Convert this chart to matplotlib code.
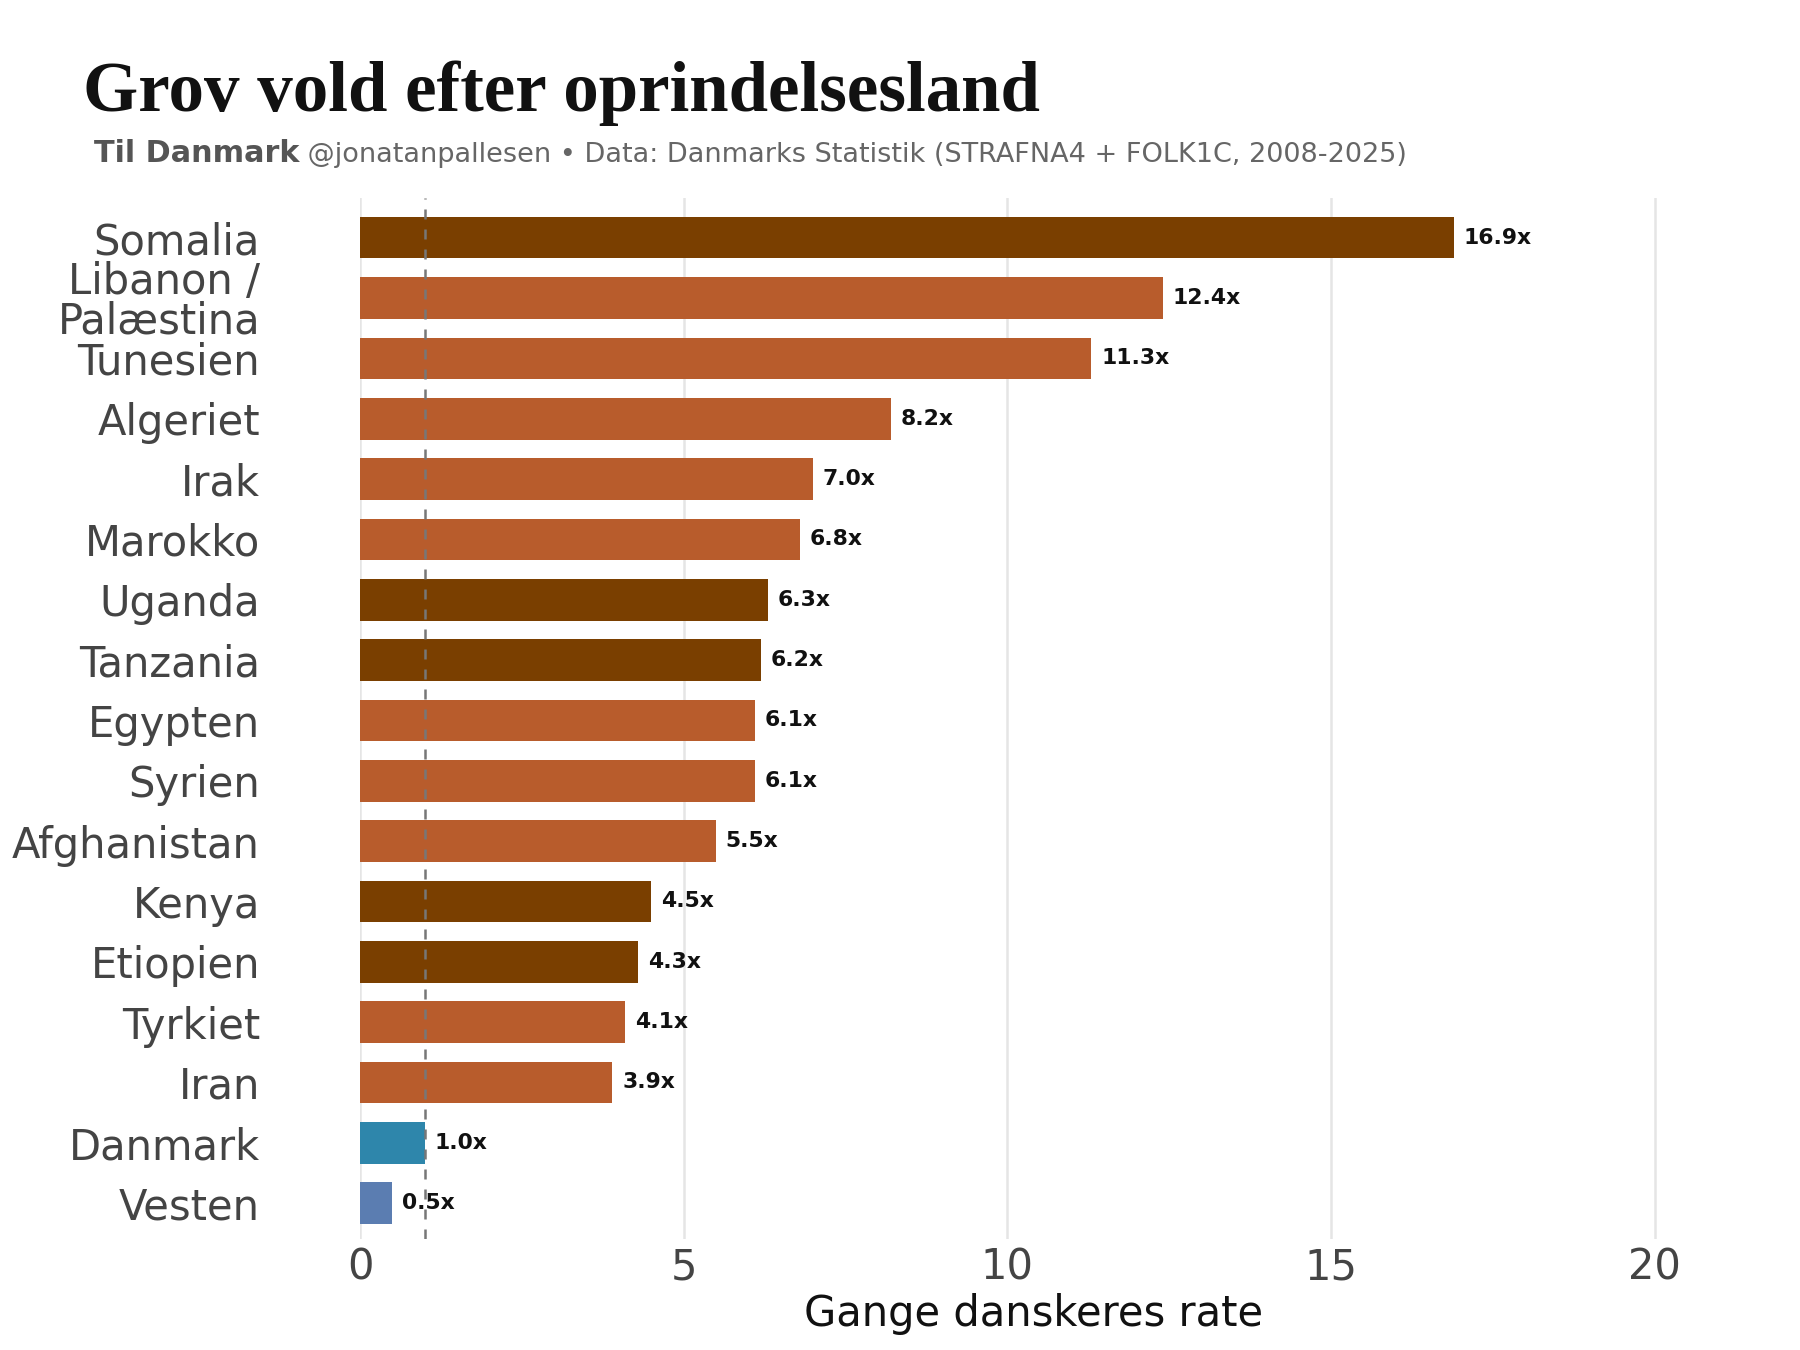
import matplotlib
matplotlib.use('Agg')
import matplotlib.pyplot as plt
import numpy as np

COUNTRIES = ['Somalia', 'Libanon /\nPalæstina', 'Tunesien', 'Algeriet', 'Irak', 'Marokko',
             'Uganda', 'Tanzania', 'Egypten', 'Syrien', 'Afghanistan', 'Kenya',
             'Etiopien', 'Tyrkiet', 'Iran', 'Danmark', 'Vesten']
RATES = [16.9, 12.4, 11.3, 8.2, 7.0, 6.8, 6.3, 6.2, 6.1, 6.1, 5.5, 4.5, 4.3, 4.1, 3.9, 1.0, 0.5]
GROUPS = ['af', 'me', 'me', 'me', 'me', 'me', 'af', 'af', 'me', 'me', 'me', 'af',
          'af', 'me', 'me', 'dk', 'west']

COLORS = {'af': '#7A3F00', 'me': '#B85C2C', 'dk': '#2E86AB', 'west': '#5B7DB1'}

fig = plt.figure(figsize=(12, 9), dpi=150)
ax = fig.add_axes([0.2, 0.082, 0.748, 0.771])

y = np.arange(len(COUNTRIES))[::-1]
ax.barh(y, RATES, height=0.69, color=[COLORS[g] for g in GROUPS], zorder=2)
for yi, v in zip(y, RATES):
    ax.text(v + 0.15, yi, f'{v:.1f}x', va='center', ha='left', fontsize=10.5,
            fontweight='bold', color='#111', zorder=4)

ax.axvline(1, color='#777', linestyle=(0, (4, 4)), lw=1.2, zorder=3)

ax.set_xlim(0, 20.8)
ax.set_ylim(-0.6, 16.65)
ax.set_xticks([0, 5, 10, 15, 20])
ax.set_yticks(y)
ax.set_yticklabels(COUNTRIES, fontsize=20, color='#444', linespacing=0.95)
ax.tick_params(axis='both', length=0, labelsize=20, labelcolor='#444')
ax.tick_params(axis='y', pad=48)
ax.xaxis.grid(True, color='#E5E5E5', lw=1.2, zorder=0)
ax.set_axisbelow(True)
for s in ax.spines.values():
    s.set_visible(False)
ax.set_xlabel('Gange danskeres rate', fontsize=20, color='#111', labelpad=2)

fig.text(0.046, 0.918, 'Grov vold efter oprindelsesland', fontsize=34,
         fontweight='bold', family='Liberation Serif', color='#111')
t1 = fig.text(0.052, 0.88, 'Til Danmark', fontsize=14.5, fontweight='bold', color='#555')
fig.text(0, 0, '', transform=fig.transFigure)
plt.annotate(' @jonatanpallesen • Data: Danmarks Statistik (STRAFNA4 + FOLK1C, 2008-2025)',
             xy=(1, 0), xycoords=t1, xytext=(0, 0), textcoords='offset points',
             fontsize=13, color='#666', va='bottom', ha='left', annotation_clip=False)

fig.savefig('out.png', dpi=150)
